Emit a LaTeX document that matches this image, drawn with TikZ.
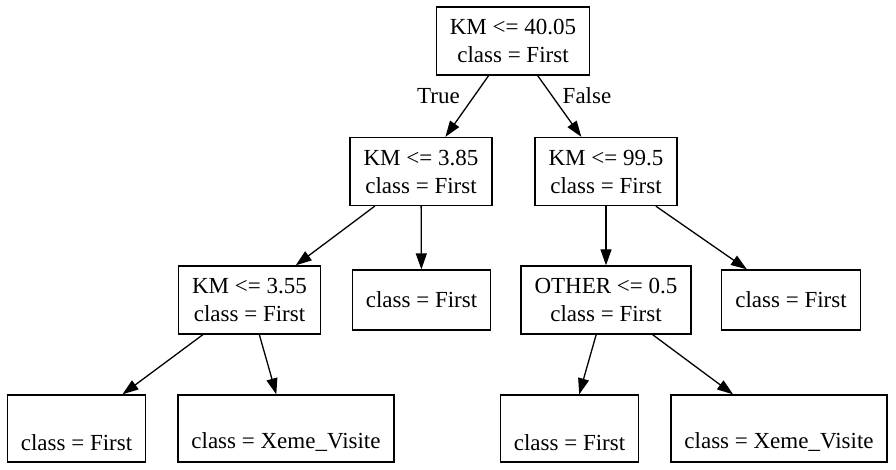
\documentclass[tikz,border=0pt]{standalone}
\usepackage{fontspec}
\setmainfont{Liberation Serif}
\newfontfamily\treefont{Liberation Serif}
\usetikzlibrary{arrows.meta}
\begin{document}
\begin{tikzpicture}[x=1pt,y=-1pt]
\tikzstyle{split}=[rectangle,draw,line width=1.3pt,align=center,inner xsep=13.5pt,inner ysep=3pt,minimum height=68pt,font=\treefont\fontsize{23}{28}\selectfont]
\tikzstyle{leaf}=[split,minimum height=67pt]
\tikzstyle{single}=[split,minimum height=60pt]
\tikzstyle{edgelab}=[font=\treefont\fontsize{23}{28}\selectfont]
\tikzstyle{arr}=[line width=1.3pt,-{Triangle[length=16pt,width=11pt]}]
\useasboundingbox (0,0) rectangle (896,470);
\node [split] (root) at (513,41) {KM <= 40.05\\class = First};
\node [split] (km385) at (421,171.5) {KM <= 3.85\\class = First};
\node [split] (km995) at (606,171.5) {KM <= 99.5\\class = First};
\node [split] (km355) at (249.5,300) {KM <= 3.55\\class = First};
\node [single] (midfirst) at (421.5,300) {class = First};
\node [split] (other) at (606,300) {OTHER <= 0.5\\class = First};
\node [single] (rightfirst) at (791,300) {class = First};
\node [leaf] (leafa) at (76.5,428.5) {\vphantom{Kl}\\class = First};
\node [leaf] (leafb) at (286,428.5) {\vphantom{Kl}\\class = Xeme\_Visite};
\node [leaf] (leafc) at (569.5,428.5) {\vphantom{Kl}\\class = First};
\node [leaf] (leafd) at (779,428.5) {\vphantom{Kl}\\class = Xeme\_Visite};
\node [edgelab] (truelab) at (438.5,96) {True};
\node [edgelab] (falselab) at (587,96) {False};
\draw [arr] (root) -- (km385);
\draw [arr] (root) -- (km995);
\draw [arr] (km385) -- (km355);
\draw [arr] (km385) -- (midfirst);
\draw [arr] (km995) -- (other);
\draw [arr] (km995) -- (rightfirst);
\draw [arr] (km355) -- (leafa);
\draw [arr] (km355) -- (leafb);
\draw [arr] (other) -- (leafc);
\draw [arr] (other) -- (leafd);
\end{tikzpicture}
\end{document}
